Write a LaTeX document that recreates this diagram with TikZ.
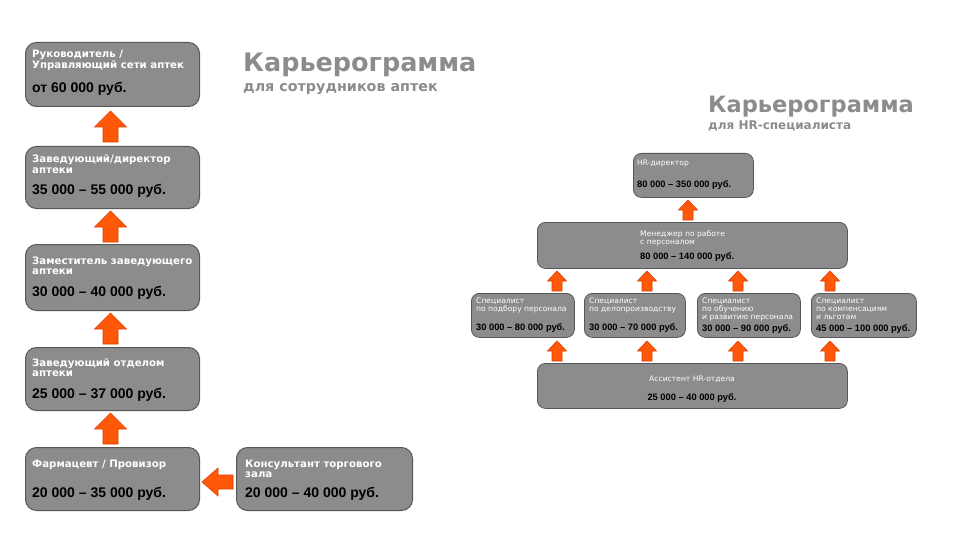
\documentclass[tikz,border=0pt]{standalone}
\usepackage{fontspec}
\setmainfont{Liberation Sans}
\newfontfamily\dvs{DejaVu Sans}
\usetikzlibrary{calc}
\definecolor{boxgrey}{RGB}{140,140,140}
\definecolor{boxedge}{RGB}{88,88,88}
\definecolor{titlegrey}{RGB}{140,140,140}
\definecolor{arrorange}{RGB}{255,88,8}
\definecolor{arredge}{RGB}{220,60,0}
\newcommand{\stk}[1]{\begin{tabular}[t]{@{}l@{}}#1\end{tabular}}
\begin{document}
\begin{tikzpicture}[x=1pt,y=-1pt,
  bigbox/.style={draw=boxedge, fill=boxgrey, line width=1pt, rounded corners=11pt, anchor=north west, inner sep=0pt},
  hrbox/.style={draw=boxedge, fill=boxgrey, line width=0.8pt, rounded corners=8pt, anchor=north west, inner sep=0pt},
  lbl/.style={anchor=base west, inner sep=0pt, text=white, font=\dvs\fontsize{10.2}{10.5}\selectfont\bfseries},
  sal/.style={anchor=base west, inner sep=0pt, text=black, font=\fontsize{14}{16}\selectfont\bfseries},
  hrlbl/.style={anchor=base west, inner sep=0pt, text=white, font=\dvs\fontsize{7.6}{8}\selectfont},
  hrsal/.style={anchor=base west, inner sep=0pt, text=black, font=\fontsize{9.3}{10}\selectfont\bfseries},
  ttl/.style={anchor=base west, inner sep=0pt, text=titlegrey},
  arrowfill/.style={fill=arrorange, draw=arredge, line width=0.6pt, line join=miter},
  bigup/.pic={\path[arrowfill] (-7.5,0) -- (-7.5,-15) -- (-16,-15) -- (0,-31) -- (16,-15) -- (7.5,-15) -- (7.5,0) -- cycle;},
  bigleft/.pic={\path[arrowfill] (0,-7) -- (-15,-7) -- (-15,-14) -- (-31,0) -- (-15,14) -- (-15,7) -- (0,7) -- cycle;},
  hrup/.pic={\path[arrowfill] (-5,0) -- (-5,-10) -- (-9.5,-10) -- (0,-20) -- (9.5,-10) -- (5,-10) -- (5,0) -- cycle;}
]
\useasboundingbox (0,0) rectangle (960,540);
\fill[white] (0,0) rectangle (960,540);

% ---------- left chart ----------
\node[bigbox, minimum width=174pt, minimum height=64pt] (b1) at (25,42) {};
\node[bigbox, minimum width=174pt, minimum height=62pt] (b2) at (25,146) {};
\node[bigbox, minimum width=174pt, minimum height=66pt] (b3) at (25,244) {};
\node[bigbox, minimum width=174pt, minimum height=63pt] (b4) at (25,347) {};
\node[bigbox, minimum width=174pt, minimum height=63pt] (b5) at (25,447) {};
\node[bigbox, minimum width=176pt, minimum height=63pt] (b6) at (236,447) {};

\node[lbl] (b1t) at (32,58) {\stk{Руководитель /\\Управляющий сети аптек}};
\node[sal] (b1s) at (32,93) {от 60 000 руб.};
\node[lbl] (b2t) at (32,163) {\stk{Заведующий/директор\\аптеки}};
\node[sal] (b2s) at (32,194) {35 000 – 55 000 руб.};
\node[lbl] (b3t) at (32,264) {\stk{Заместитель заведующего\\аптеки}};
\node[sal] (b3s) at (32,296) {30 000 – 40 000 руб.};
\node[lbl] (b4t) at (32,366) {\stk{Заведующий отделом\\аптеки}};
\node[sal] (b4s) at (32,398) {25 000 – 37 000 руб.};
\node[lbl] (b5t) at (32,467) {\stk{Фармацевт / Провизор}};
\node[sal] (b5s) at (32,497) {20 000 – 35 000 руб.};
\node[lbl] (b6t) at (245,467) {\stk{Консультант торгового\\зала}};
\node[sal] (b6s) at (245,497) {20 000 – 40 000 руб.};

\pic at ($(b2.north)+(-2,-4)$) {bigup};
\pic at ($(b3.north)+(-2,-2)$) {bigup};
\pic at ($(b4.north)+(-2,-3)$) {bigup};
\pic at ($(b5.north)+(-2,-3)$) {bigup};
\pic at ($(b6.west)+(-3,3)$) {bigleft};

\node[ttl, font=\dvs\fontsize{25.5}{28}\selectfont\bfseries] (t1) at (243,72) {Карьерограмма};
\node[ttl, font=\dvs\fontsize{14.3}{16}\selectfont\bfseries] (t1s) at (243,92) {для сотрудников аптек};

% ---------- right chart ----------
\node[ttl, font=\dvs\fontsize{22.5}{25}\selectfont\bfseries] (t2) at (708,113) {Карьерограмма};
\node[ttl, font=\dvs\fontsize{12}{14}\selectfont\bfseries] (t2s) at (708,130) {для HR-специалиста};

\node[hrbox, minimum width=120pt, minimum height=44pt] (hrd) at (633,153) {};
\node[hrbox, minimum width=310pt, minimum height=46pt] (mgr) at (537,222) {};
\node[hrbox, minimum width=103pt, minimum height=44pt] (s1) at (471,293) {};
\node[hrbox, minimum width=101pt, minimum height=44pt] (s2) at (584,293) {};
\node[hrbox, minimum width=103pt, minimum height=44pt] (s3) at (697,293) {};
\node[hrbox, minimum width=105pt, minimum height=44pt] (s4) at (811,293) {};
\node[hrbox, minimum width=310pt, minimum height=45pt] (ast) at (537,363) {};

\node[hrlbl] (hrdt) at (637,166) {\stk{HR-директор}};
\node[hrsal] (hrds) at (637,187) {80 000 – 350 000 руб.};
\node[hrlbl] (mgrt) at (640,236) {\stk{Менеджер по работе\\с персоналом}};
\node[hrsal] (mgrs) at (640,259) {80 000 – 140 000 руб.};
\node[hrlbl] (s1t) at (476,303) {\stk{Специалист\\по подбору персонала}};
\node[hrsal] (s1s) at (476,330) {30 000 – 80 000 руб.};
\node[hrlbl] (s2t) at (589,303) {\stk{Специалист\\по делопроизводству}};
\node[hrsal] (s2s) at (589,330) {30 000 – 70 000 руб.};
\node[hrlbl] (s3t) at (702,303) {\stk{Специалист\\по обучению\\и развитию персонала}};
\node[hrsal] (s3s) at (702,331) {30 000 – 90 000 руб.};
\node[hrlbl] (s4t) at (816,303) {\stk{Специалист\\по компенсациям\\и льготам}};
\node[hrsal] (s4s) at (816,331) {45 000 – 100 000 руб.};
\node[hrlbl, anchor=base] (astt) at (692,381) {Ассистент HR-отдела};
\node[hrsal, anchor=base] (asts) at (692,400) {25 000 – 40 000 руб.};

\pic at ($(688,0 |- mgr.north)+(0,-2)$) {hrup};
\foreach \xx in {557,647,738,830} {
  \pic at ($(\xx,0 |- s1.north)+(0,-2)$) {hrup};
  \pic at ($(\xx,0 |- ast.north)+(0,-2)$) {hrup};
}
\end{tikzpicture}
\end{document}
